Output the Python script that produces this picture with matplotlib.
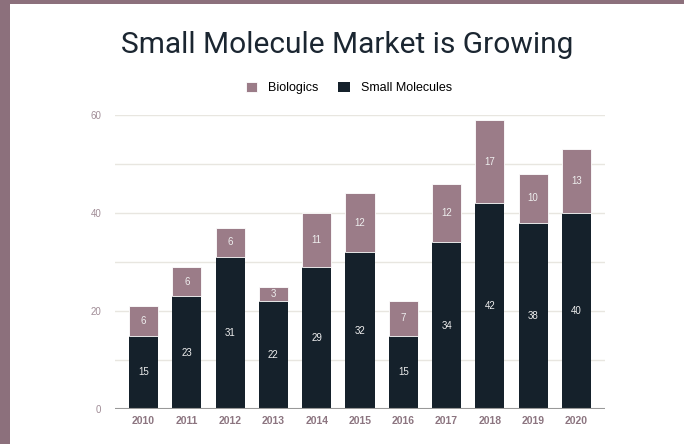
import matplotlib.pyplot as plt
from matplotlib.patches import Rectangle

plt.rcParams["font.family"] = ["Liberation Sans", "DejaVu Sans"]

years = ["2010", "2011", "2012", "2013", "2014", "2015",
         "2016", "2017", "2018", "2019", "2020"]
small_molecules = [15, 23, 31, 22, 29, 32, 15, 34, 42, 38, 40]
biologics = [6, 6, 6, 3, 11, 12, 7, 12, 17, 10, 13]

DARK = "#15212b"
MAUVE = "#9b7c88"
BORDER = "#8c707c"

fig = plt.figure(figsize=(6.84, 4.44), dpi=100)
fig.patch.set_facecolor(BORDER)
fig.patches.append(Rectangle((10 / 684, 0), 1, 1 - 4 / 444, transform=fig.transFigure,
                             facecolor="white", edgecolor="none", zorder=-10))

ax = fig.add_axes([115 / 684, 1 - 409 / 444, 490 / 684, 294 / 444])
ax.set_facecolor("none")
x = range(len(years))
ax.bar(x, small_molecules, width=0.67, color=DARK, label="Small Molecules", zorder=3)
ax.bar(x, biologics, width=0.67, bottom=small_molecules, color=MAUVE,
       edgecolor="white", linewidth=0.6, label="Biologics", zorder=3)

for i, (s, b) in enumerate(zip(small_molecules, biologics)):
    ax.text(i, s / 2, str(s), ha="center", va="center", color="#eeeeee", fontsize=7, zorder=4)
    ax.text(i, s + b / 2, str(b), ha="center", va="center", color="#eeeeee", fontsize=7, zorder=4)

ax.set_xlim(-0.66, len(years) - 0.34)
ax.set_ylim(0, 60)
ax.set_yticks(range(0, 61, 10))
ax.set_yticklabels(["0", "", "20", "", "40", "", "60"])
ax.grid(axis="y", color="#e8e6e0", linewidth=1, zorder=0)
ax.axhline(0, color="#999999", linewidth=1.5, zorder=5)
for sp in ax.spines.values():
    sp.set_visible(False)
ax.tick_params(axis="y", length=0, labelsize=7, labelcolor="#a08c96", pad=10)
ax.tick_params(axis="x", length=0, pad=5)
ax.set_xticks(list(x))
ax.set_xticklabels(years, fontsize=7.5, fontweight="bold", color="#8c7580")

fig.text(0.508, 0.898, "Small Molecule Market is Growing", ha="center", va="center",
         fontsize=21.5, color="#1b2631", family="Roboto")

handles, labels = ax.get_legend_handles_labels()
fig.legend(handles[::-1], labels[::-1], loc="center", bbox_to_anchor=(0.51, 0.802),
           ncol=2, frameon=False, fontsize=9, handlelength=0.9, handleheight=0.9,
           columnspacing=1.6, handletextpad=0.9)

fig.savefig("out.png", dpi=100, facecolor=fig.get_facecolor())
